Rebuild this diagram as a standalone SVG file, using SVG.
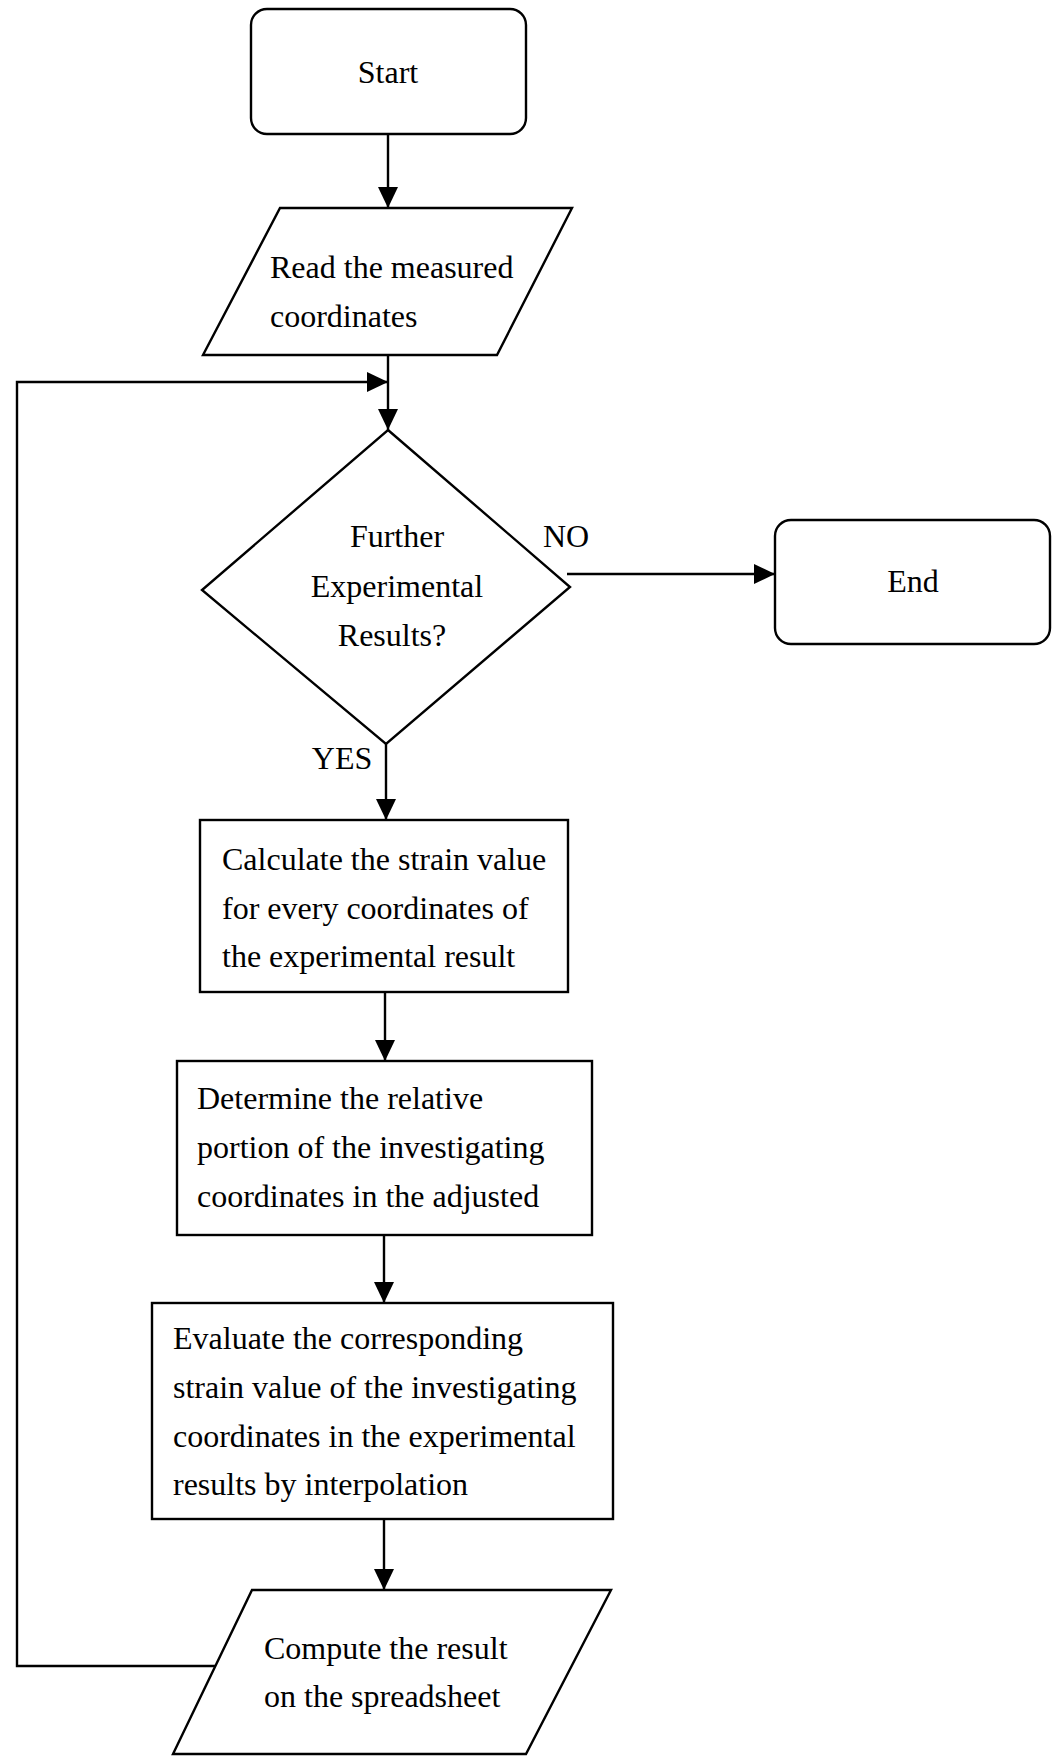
<svg xmlns="http://www.w3.org/2000/svg" width="1060" height="1756" viewBox="0 0 1060 1756">
<defs>
<style>
.s{fill:#fff;stroke:#000;stroke-width:2.4}
.t{font-family:"Liberation Serif","Times New Roman",serif;font-size:32px;fill:#000}
.c{text-anchor:middle}
.l{fill:none;stroke:#000;stroke-width:2.4}
</style>
<marker id="ah" markerUnits="userSpaceOnUse" markerWidth="21" markerHeight="20" refX="21" refY="10" orient="auto">
<path d="M0,0 L21,10 L0,20 Z" fill="#000"/>
</marker>
</defs>
<rect width="1060" height="1756" fill="#fff"/>
<g id="connectors">
<path class="l" d="M388,134 V208" marker-end="url(#ah)"/>
<path class="l" d="M388,355 V430" marker-end="url(#ah)"/>
<path class="l" d="M215,1666 H17 V382 H388" marker-end="url(#ah)"/>
<path class="l" d="M567,574 H775" marker-end="url(#ah)"/>
<path class="l" d="M386,744 V820" marker-end="url(#ah)"/>
<path class="l" d="M385,992 V1061" marker-end="url(#ah)"/>
<path class="l" d="M384,1235 V1303" marker-end="url(#ah)"/>
<path class="l" d="M384,1519 V1590" marker-end="url(#ah)"/>
<text class="t c" x="566" y="547">NO</text>
<text class="t c" x="342" y="769">YES</text>
</g>
<g id="start">
<rect class="s" x="251" y="9" width="275" height="125" rx="16"/>
<text class="t c" x="388" y="83">Start</text>
</g>
<g id="read">
<polygon class="s" points="280,208 572,208 497,355 203,355"/>
<text class="t" x="270" y="278">Read the measured</text>
<text class="t" x="270" y="327">coordinates</text>
</g>
<g id="decision">
<polygon class="s" points="388,430 570,587 386,744 202,590"/>
<text class="t c" x="397" y="547">Further</text>
<text class="t c" x="397" y="597">Experimental</text>
<text class="t c" x="392" y="646">Results?</text>
</g>
<g id="end">
<rect class="s" x="775" y="520" width="275" height="124" rx="16"/>
<text class="t c" x="913" y="592">End</text>
</g>
<g id="calc">
<rect class="s" x="200" y="820" width="368" height="172"/>
<text class="t" x="222" y="870">Calculate the strain value</text>
<text class="t" x="222" y="919">for every coordinates of</text>
<text class="t" x="222" y="967">the experimental result</text>
</g>
<g id="determine">
<rect class="s" x="177" y="1061" width="415" height="174"/>
<text class="t" x="197" y="1109">Determine the relative</text>
<text class="t" x="197" y="1158">portion of the investigating</text>
<text class="t" x="197" y="1207">coordinates in the adjusted</text>
</g>
<g id="evaluate">
<rect class="s" x="152" y="1303" width="461" height="216"/>
<text class="t" x="173" y="1349">Evaluate the corresponding</text>
<text class="t" x="173" y="1398">strain value of the investigating</text>
<text class="t" x="173" y="1447">coordinates in the experimental</text>
<text class="t" x="173" y="1495">results by interpolation</text>
</g>
<g id="compute">
<polygon class="s" points="252,1590 611,1590 526,1754 173,1754"/>
<text class="t" x="264" y="1659">Compute the result</text>
<text class="t" x="264" y="1707">on the spreadsheet</text>
</g>
</svg>
